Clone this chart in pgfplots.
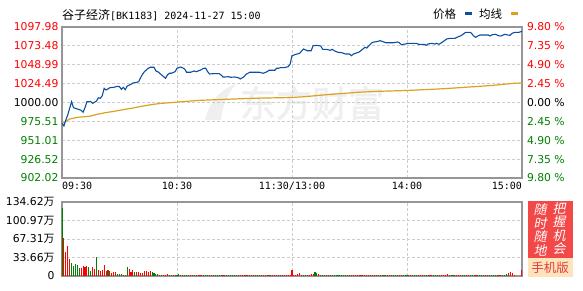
\documentclass[border=0pt]{standalone}
\usepackage{pgfplots}
\pgfplotsset{compat=1.18}
\usepackage{fontspec}
\setmainfont{DejaVu Sans}
\newfontfamily\cjk{Noto Sans CJK SC}
\newfontfamily\cjkb[FakeBold=2]{Noto Sans CJK SC}
\newfontfamily\cjki[FakeSlant=0.2]{Noto Sans CJK SC}
\newfontfamily\mono{DejaVu Sans Mono}
\definecolor{pr}{RGB}{255,0,0}
\definecolor{pg}{RGB}{0,128,0}
\definecolor{pblue}{RGB}{11,78,162}
\definecolor{porange}{RGB}{218,162,32}
\definecolor{bordergray}{RGB}{150,150,150}
\definecolor{gridgray}{RGB}{205,205,205}
\definecolor{boxred}{RGB}{242,72,72}
\definecolor{boxbeige}{RGB}{253,228,188}
\definecolor{wm}{RGB}{239,239,239}
\newcommand{\tl}{\fontsize{10.8bp}{12bp}\selectfont}
\newcommand{\wan}{{\cjk 万}}
\begin{document}
\begin{tikzpicture}
\useasboundingbox (0,0) rectangle (583bp,-291bp);
% watermark
\node[wm, inner sep=0, anchor=center] at (312bp,-103bp) {\cjkb\fontsize{36bp}{40bp}\selectfont 东方财富};
\fill[wm] (205bp,-120bp) .. controls (210bp,-100bp) and (220bp,-90bp) .. (236bp,-84bp) .. controls (226bp,-96bp) and (222bp,-108bp) .. (221bp,-120bp) -- cycle;
% title
\node[anchor=west, inner sep=0] at (62bp,-15bp) {{\cjk\fontsize{12bp}{14bp}\selectfont 谷子经济}{\mono\fontsize{10bp}{12bp}\selectfont [BK1183] 2024-11-27 15:00}};
% legend
\node[anchor=west, inner sep=0] at (433bp,-14bp) {\cjk\fontsize{11.5bp}{13bp}\selectfont 价格};
\fill[pblue] (465bp,-12.3bp) rectangle (472bp,-15bp);
\node[anchor=west, inner sep=0] at (479bp,-14bp) {\cjk\fontsize{11.5bp}{13bp}\selectfont 均线};
\fill[porange] (511bp,-12.3bp) rectangle (518bp,-15bp);
% side box
\fill[boxred] (528bp,-201bp) rectangle (573bp,-258bp);
\fill[boxbeige] (528bp,-258bp) rectangle (573bp,-277bp);
\node[white, align=center, inner sep=0, font=\cjki\fontsize{13bp}{13.5bp}\selectfont] at (540bp,-230bp) {随\\时\\随\\地};
\node[white, align=center, inner sep=0, font=\cjki\fontsize{13bp}{13.5bp}\selectfont] at (559bp,-228.5bp) {把\\握\\机\\会};
\node[inner sep=0, text={rgb,255:red,230;green,60;blue,60}] at (550bp,-267.5bp) {\cjk\fontsize{12.5bp}{14bp}\selectfont 手机版};

% price axis
\begin{axis}[
  at={(62bp,-178bp)}, anchor=south west,
  scale only axis, width=460bp, height=151bp,
  xmin=0, xmax=240, ymin=902.02, ymax=1097.98,
  xtick={0,60,120,180,240},
  xticklabels={\makebox[0pt][l]{09:30},10:30,11:30/13:00,14:00,\makebox[0pt][r]{15:00}},
  xticklabel style={font=\mono\fontsize{10bp}{12bp}\selectfont, yshift=-1bp},
  ytick={902.02,926.52,951.01,975.51,1000,1024.49,1048.99,1073.48,1097.98},
  yticklabels={\textcolor{pg}{902.02},\textcolor{pg}{926.52},\textcolor{pg}{951.01},\textcolor{pg}{975.51},\textcolor{black}{1000.00},\textcolor{pr}{1024.49},\textcolor{pr}{1048.99},\textcolor{pr}{1073.48},\textcolor{pr}{1097.98}},
  yticklabel style={font=\tl},
  tick style={draw=none},
  grid=major,
  major grid style={gridgray, line width=0.9bp, dash pattern=on 3bp off 2bp},
  axis line style={bordergray, line width=1.2bp},
]
\addplot[porange, line width=1.2bp] coordinates {
(0,973)(2,975.5)(4,978.5)(8,980.8)(14,982)(18,984.5)(22,986.5)(27,988.5)(32,990.8)(37,992.8)(42,995.3)(47,997.4)(52,999)(58,1000)(62,1001)(72,1002.8)(86,1004.2)(100,1005.5)(120,1006.5)(128,1007.8)(135,1009.5)(145,1011.5)(155,1013.3)(165,1014.5)(180,1015.6)(190,1016.8)(200,1018)(210,1019.7)(218,1021)(225,1022.3)(232,1024)(236,1025)(240,1025.3)
};
\addplot[pblue, line width=1.1bp] coordinates {
(0,973.0)(1,969.5)(2,977.3)(3,983.8)(4,992.5)(5,1001.1)(6,993.3)(8,991.6)(10,989.9)(11,987.3)(12,993.3)(13,1001.1)(15,1001.1)(16,998.9)(18,1001.9)(19,1006.2)(20,1005.4)(21,1008.8)(22,1018.4)(23,1016.2)(25,1019.2)(27,1019.7)(29,1021.0)(30,1020.5)(31,1017.1)(32,1019.7)(33,1016.6)(34,1021.4)(36,1023.6)(37,1025.3)(39,1026.2)(40,1027.0)(41,1032.2)(42,1036.6)(43,1040)(44,1042.2)(45,1044.4)(46,1045.7)(48,1045.7)(49,1040.9)(50,1040.0)(52,1035.7)(54,1031.4)(55,1035.7)(56,1037.9)(57,1037.9)(59,1040.0)(60,1044.4)
(61,1045.2)(62,1046.1)(64,1043.5)(65,1039.2)(67,1039.2)(69,1040.9)(70,1040.0)(72,1041.8)(74,1044.4)(75,1044.4)(76,1040.0)(77,1037.0)(79,1037.4)(82,1037.4)(83,1035.7)(84,1033.1)(85,1033.1)(87,1033.5)(88,1032.7)(90,1033.1)(92,1032.2)(93,1030.5)(95,1033.5)(96,1036.6)(98,1039.2)(101,1039.2)(103,1039.2)(105,1037.9)(107,1040.0)(108,1041.8)(111,1041.8)(112,1044.4)(113,1044.4)(114,1045.2)(116,1045.2)(118,1046.5)(119,1049.6)(120,1060.7)(121,1061.6)
(122,1062.5)(124,1063.8)(125,1066.8)(126,1069.4)(128,1067.2)(130,1067.2)(131,1073.7)(133,1074.2)(135,1073.3)(136,1069.0)(138,1069.0)(140,1067.7)(141,1069.0)(142,1067.2)(144,1065.1)(146,1064.6)(148,1062.9)(150,1062.9)(151,1060.7)(152,1062.9)(154,1064.6)(155,1065.5)(157,1069.4)(158,1071.6)(159,1070.7)(161,1075.9)(162,1078.1)(164,1078.9)(166,1080.2)(168,1078.5)(169,1077.6)(171,1077.6)(173,1077.6)(175,1078.5)(176,1077.6)(177,1075.0)(179,1075.9)
(181,1076.8)(185,1076.8)(186,1075.5)(189,1075.5)(190,1074.2)(191,1075.9)(193,1076.8)(194.6,1075.9)(195.5,1076.8)(196.7,1075.5)(198,1077.6)(199.5,1080.2)(200.7,1082.4)(202.4,1083.3)(205,1083.3)(206.8,1085.4)(208.2,1086.7)(209.4,1088.9)(210.6,1091.1)(212.9,1091.1)(213.7,1089.8)(214.6,1086.7)(215.8,1084.6)(216.9,1086.3)(218.1,1087.6)(222.4,1087.6)(223.3,1086.3)(224.5,1088.0)(226.3,1088.5)(227.6,1086.7)(229,1086.3)(230.2,1087.6)(231.1,1088.5)(232.5,1087.6)(233.7,1087.2)(234.9,1089.8)(236.3,1091.1)(238.4,1091.1)(240,1092.4)
};
\end{axis}
% right percent axis
\begin{axis}[
  at={(62bp,-178bp)}, anchor=south west,
  scale only axis, width=460bp, height=151bp,
  xmin=0, xmax=240, ymin=902.02, ymax=1097.98,
  axis x line=none, axis y line*=right,
  y axis line style={draw=none},
  ytick={902.02,926.52,951.01,975.51,1000,1024.49,1048.99,1073.48,1097.98},
  yticklabels={\textcolor{pg}{9.80 \%},\textcolor{pg}{7.35 \%},\textcolor{pg}{4.90 \%},\textcolor{pg}{2.45 \%},\textcolor{black}{0.00 \%},\textcolor{pr}{2.45 \%},\textcolor{pr}{4.90 \%},\textcolor{pr}{7.35 \%},\textcolor{pr}{9.80 \%}},
  yticklabel style={font=\tl, xshift=1.5bp},
  tick style={draw=none},
]
\end{axis}
% volume axis
\begin{axis}[
  at={(62bp,-276bp)}, anchor=south west,
  scale only axis, width=460bp, height=74bp,
  xmin=0, xmax=240, ymin=0, ymax=134.62,
  xtick={60,120,180}, xticklabels={},
  ytick={0,33.66,67.31,100.97,134.62},
  yticklabels={0,33.66\wan,67.31\wan,100.97\wan,134.62\wan},
  yticklabel style={font=\tl, xshift=-4bp},
  tick style={draw=none},
  grid=major,
  major grid style={gridgray, line width=0.9bp, dash pattern=on 3bp off 2bp},
  axis line style={bordergray, line width=1.2bp},
]
\addplot[ycomb, pr, line width=1.1bp, mark=none] coordinates {
(1,68.5)(2,44.3)(3,55.2)(4,30.9)(10,15.2)(11,17.6)(12,16.4)(13,18.8)(16,16.4)(17,12.7)(19,10.9)(20,8.5)(21,10.3)(22,20)(24,11.5)(26,6.1)(27,6.7)(28,7.3)(32,1.8)(33,1.5)(35,13.3)(36,7.9)(37,10.3)(39,6.7)(40,7.3)(41,6.1)(42,6.1)(43,8.5)(44,9.1)(45,7.9)(46,9.1)(51,1.8)(53,1.8)(54,1.5)(55,4.5)(56,1.5)(59,1.5)
(62,1.6)(66,1.4)(67,1.8)(68,1.5)(70,1.6)(71,1.4)(72,1.7)(73,1.5)(77,1.6)(79,1.4)(84,1.5)(85,1.7)(88,1.4)(92,1.6)(93,1.5)(94,1.8)(95,1.4)(96,1.6)(99,1.5)(101,1.4)(104,1.6)(105,1.5)(106,1.7)(108,1.4)(110,1.6)(111,1.5)(113,1.4)(115,1.6)(116,1.5)(117,1.7)(118,1.5)(119,1.6)(120,11.5)
(121,1.5)(122,2.4)(123,3.6)(124,4.8)(125,1.5)(128,1.5)(129,1.5)(130,3)(131,4.2)(134,3)(137,1.5)(140,1.4)(148,1.5)(151,1.6)(152,1.4)(153,1.5)(154,1.7)(155,1.5)(156,1.4)(158,1.6)(159,1.5)(160,1.4)(161,1.6)(163,1.5)(164,1.4)(168,1.6)(171,1.5)(172,1.4)(176,1.6)(177,1.5)(181,1.4)(182,1.6)(186,1.5)(187,1.4)(188,1.6)(191,1.5)(192,1.4)(193,1.6)(197,1.5)(198,1.4)(199,1.6)(200,1.5)(201,3)(202,1.5)(205,1.4)(206,1.6)(207,1.5)(208,1.4)(211,1.6)(212,1.5)(216,1.4)(217,1.6)(221,1.5)(222,1.4)(228,1.6)(229,1.5)(233,5.5)(234,7.3)(235,5.5)(236,2)(240,10.9)
};
\addplot[ycomb, pg, line width=1.1bp, mark=none] coordinates {
(0,123)(5,24.3)(6,18.8)(7,21.8)(8,20)(9,13.9)(14,16.4)(15,9.1)(18,35.2)(23,9.7)(25,9.1)(29,3.6)(30,3.6)(31,3.6)(34,17)(38,6.7)(47,7.3)(48,4.8)(49,3)(50,3.6)(52,2.4)(57,1.5)(58,1.5)(60,1.5)(61,3)
(63,1.5)(64,1.4)(65,1.6)(69,1.5)(74,1.4)(75,1.6)(76,1.5)(78,1.4)(80,1.6)(81,1.5)(82,1.4)(83,1.6)(86,1.5)(87,1.4)(89,1.6)(90,1.5)(91,1.4)(97,1.6)(98,1.5)(100,1.4)(102,1.6)(103,1.5)(107,1.4)(109,1.6)(112,1.5)(114,1.4)
(126,1.5)(127,1.5)(132,6.5)(133,5.5)(135,1.4)(136,1.5)(138,1.6)(139,1.4)(141,1.5)(142,1.6)(143,1.4)(144,1.5)(145,1.6)(146,1.4)(147,1.5)(149,1.6)(150,1.4)(157,1.5)(162,1.6)(165,1.4)(166,1.5)(167,1.6)(169,1.4)(170,1.5)(173,1.6)(174,1.4)(175,1.5)(178,1.6)(179,1.4)(180,1.5)(183,1.6)(184,1.4)(185,1.5)(189,1.6)(190,1.4)(194,1.5)(195,1.6)(196,1.4)(203,1.5)(204,1.6)(209,1.4)(210,1.5)(213,1.6)(214,1.4)(215,1.5)(218,1.6)(219,1.4)(220,1.5)(223,1.6)(224,1.4)(225,1.5)(226,1.6)(227,1.4)(230,1.5)(231,1.6)(232,4.2)
};
\end{axis}
\end{tikzpicture}
\end{document}
